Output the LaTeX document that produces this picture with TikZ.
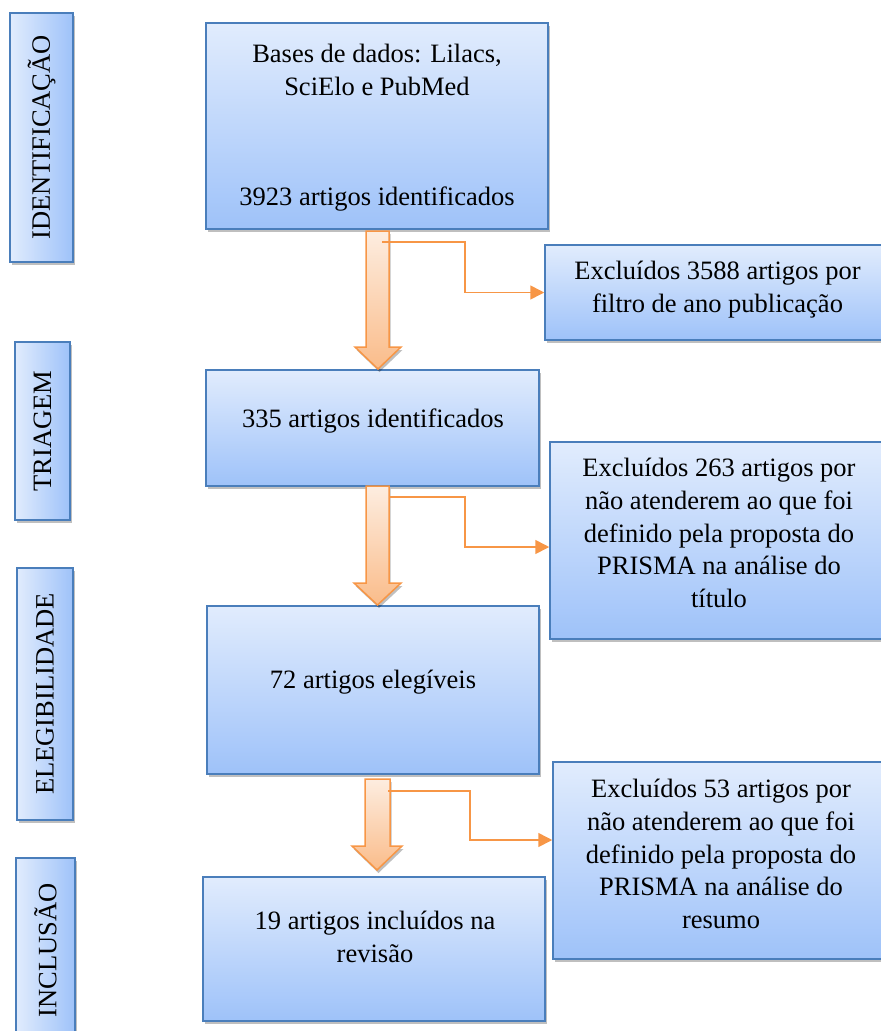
\documentclass[tikz,border=0pt]{standalone}
\usepackage{fontspec}
\setmainfont{Liberation Serif}
\usetikzlibrary{shadows,arrows.meta}
\definecolor{boxline}{RGB}{74,126,187}
\definecolor{boxtop}{RGB}{225,236,253}
\definecolor{boxbot}{RGB}{158,194,249}
\definecolor{arrline}{RGB}{247,150,70}
\definecolor{arrtop}{RGB}{253,237,224}
\definecolor{arrbot}{RGB}{250,188,138}
\begin{document}
\begin{tikzpicture}[x=1pt,y=-1pt,
  shad/.style={drop shadow={shadow xshift=1.5pt,shadow yshift=-3pt,opacity=0.25,fill=black}},
  box/.style={shad,draw=boxline,line width=1.5pt,top color=boxtop,bottom color=boxbot,inner sep=0pt},
  sidebox/.style={shad,draw=boxline,line width=1.5pt,left color=boxtop,right color=boxbot,inner sep=0pt,
    font=\fontsize{26.5}{32.8}\selectfont},
  txt/.style={font=\fontsize{26.5}{32.8}\selectfont,align=center,inner sep=0pt},
  blockarr/.style={shad,draw=arrline,line width=1.5pt,top color=arrtop,bottom color=arrbot,line join=miter},
  thinarr/.style={draw=arrline,line width=1.6pt,-{Triangle[length=14pt,width=14pt]}}]
\useasboundingbox (0,0) rectangle (881,1031);
\clip (0,0) rectangle (881,1031);

% side labels
\node[sidebox,minimum width=63pt,minimum height=249pt] (s1) at (41.5,137.5) {\rotatebox{90}{IDENTIFICAÇÃO}};
\node[sidebox,minimum width=55pt,minimum height=178pt] (s2) at (42.5,431) {\rotatebox{90}{TRIAGEM}};
\node[sidebox,minimum width=56pt,minimum height=252pt] (s3) at (45,694) {\rotatebox{90}{ELEGIBILIDADE}};
\node[sidebox,minimum width=59pt,minimum height=184pt] (s4) at (45.5,950) {\rotatebox{90}{INCLUSÃO}};

% main boxes
\node[box,minimum width=342pt,minimum height=206pt] (b1) at (377,126) {};
\node[box,minimum width=333pt,minimum height=116pt] (b2) at (372.5,428) {};
\node[box,minimum width=332pt,minimum height=168pt] (b3) at (373,690) {};
\node[box,minimum width=342pt,minimum height=144pt] (b4) at (374,949) {};

% right boxes
\node[box,minimum width=341pt,minimum height=95pt] (r1) at (715.5,292.5) {};
\node[box,minimum width=336pt,minimum height=197pt] (r2) at (718,540.5) {};
\node[box,minimum width=333pt,minimum height=197pt] (r3) at (719.5,860.5) {};

% texts
\node[txt] (t1a) at (377,70) {Bases de dados: Lilacs,\\SciElo e PubMed};
\node[txt,anchor=base] (t1b) at (377,205) {3923 artigos identificados};
\node[txt,anchor=base] (t2) at (373,427) {335 artigos identificados};
\node[txt,anchor=base] (t3) at (373,688) {72 artigos elegíveis};
\node[txt] (t4) at (375,937) {19 artigos incluídos na\\revisão};
\node[txt] (tr1) at (717.5,290) {Excluídos 3588 artigos por\\filtro de ano publicação};
\node[txt] (tr2) at (719,533) {Excluídos 263 artigos por\\não atenderem ao que foi\\definido pela proposta do\\PRISMA na análise do\\título};
\node[txt] (tr3) at (721,854) {Excluídos 53 artigos por\\não atenderem ao que foi\\definido pela proposta do\\PRISMA na análise do\\resumo};

% block arrows
\draw[blockarr] (366,231) -- (389,231) -- (389,347) -- (401,347) -- (378,369) -- (355,347) -- (366,347) -- cycle;
\draw[blockarr] (366,486) -- (389,486) -- (389,583) -- (401,583) -- (377.5,605) -- (354,583) -- (366,583) -- cycle;
\draw[blockarr] (365,779) -- (390,779) -- (390,846) -- (402,846) -- (377,870) -- (352,846) -- (365,846) -- cycle;

% thin elbow arrows
\coordinate (e1) at (382,242);
\coordinate (e2) at (389,497);
\coordinate (e3) at (388,791);
\draw[thinarr] (e1) -- ++(83,0) |- (r1.west);
\draw[thinarr] (e2) -- ++(76,0) |- ([yshift=-6.5pt]r2.west);
\draw[thinarr] (e3) -- ++(82,0) |- ([yshift=20.5pt]r3.west);
\end{tikzpicture}
\end{document}
